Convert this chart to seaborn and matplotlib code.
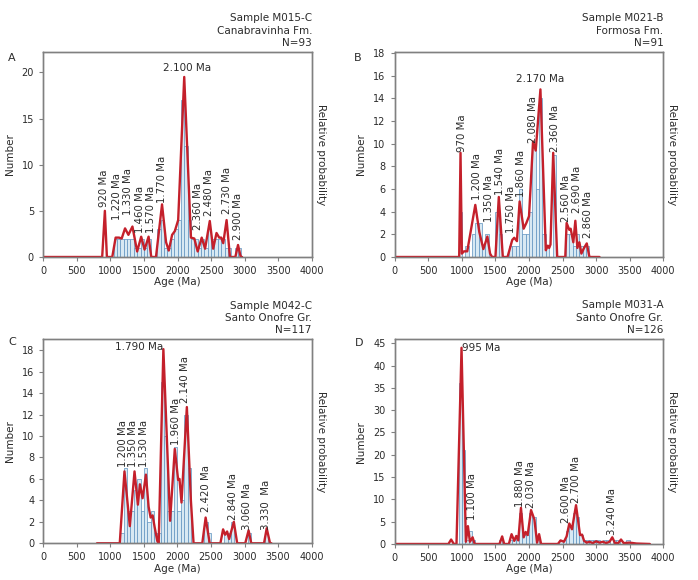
import numpy as np
import pandas as pd
import matplotlib
matplotlib.use("Agg")
import matplotlib.pyplot as plt
import seaborn as sns

# ---- Panel A : Sample M015-C
a_bin_start = [1050, 1100, 1150, 1200, 1250, 1300, 1350, 1400, 1450, 1500, 1550,
               1700, 1750, 1800, 1850, 1900, 1950, 2000, 2050, 2100, 2150, 2200,
               2250, 2300, 2350, 2400, 2450, 2500, 2550, 2600, 2650, 2700, 2750,
               2850, 2900]
a_counts = [2, 2, 2, 2, 2, 2, 1, 1, 2, 1, 2,
            3, 4, 1, 1, 2, 3, 4, 17, 12, 4, 2,
            2, 1, 2, 1, 3, 2, 2, 2, 2, 1, 1,
            1, 1]
a_curve_age = [0, 880, 920, 950, 1030, 1080, 1130, 1170, 1220, 1270, 1330, 1400,
               1460, 1510, 1570, 1610, 1680, 1770, 1830, 1870, 1920, 1960, 2010,
               2100, 2200, 2250, 2300, 2360, 2410, 2480, 2530, 2580, 2620, 2650,
               2680, 2730, 2780, 2860, 2900, 2940, 2960]
a_curve_prob = [0, 0, 5.0, 0, 0, 2.1, 2.1, 2.0, 3.1, 2.4, 3.3, 0.6,
                2.2, 0.8, 2.2, 0, 0, 5.7, 1.6, 0.7, 2.4, 2.8, 4.0,
                19.5, 2.1, 2.0, 0.6, 2.1, 0.9, 3.9, 0.9, 2.6, 2.1, 2.1,
                1.5, 4.0, 0, 0, 1.3, 0, 0]
a_label_text = ["920 Ma", "1.220 Ma", "1.330 Ma", "1.460 Ma", "1.570 Ma", "1.770 Ma",
                "2.360 Ma", "2.480 Ma", "2.730 Ma", "2.900 Ma"]
a_label_x = [912, 1096, 1269, 1440, 1605, 1765, 2312, 2472, 2731, 2904]
a_label_y = [5.4, 4.0, 4.5, 2.6, 2.6, 5.8, 2.9, 4.4, 4.7, 1.8]
a_main_label = ("2.100 Ma", 2141, 20.5, "center")

# ---- Panel B : Sample M021-B
b_bin_start = [950, 1050, 1150, 1200, 1250, 1300, 1350, 1500, 1550, 1700, 1750,
               1800, 1850, 1900, 1950, 2000, 2050, 2100, 2150, 2200, 2250, 2350,
               2550, 2600, 2650, 2700, 2750, 2800, 2850]
b_counts = [4, 1, 2, 3, 3, 1, 2, 4, 2, 1, 1,
            1, 6, 2, 2, 4, 10, 6, 14, 2, 1, 9,
            2, 2, 1, 2, 1, 1, 1]
b_curve_age = [0, 960, 980, 1000, 1030, 1080, 1200, 1260, 1320, 1380, 1420, 1450,
               1500, 1550, 1610, 1680, 1750, 1780, 1820, 1860, 1920, 1960, 2000,
               2060, 2100, 2170, 2250, 2280, 2300, 2320, 2360, 2420, 2540, 2560,
               2600, 2620, 2660, 2690, 2720, 2750, 2780, 2820, 2860, 2900, 3050]
b_curve_prob = [0, 0, 9.2, 0.3, 0.5, 0.5, 4.6, 2.2, 0.7, 1.8, 0.3, 0,
                0, 5.3, 0, 0, 1.5, 1.7, 1.4, 4.9, 2.5, 3.0, 3.6,
                10.2, 9.4, 14.8, 0.6, 1.0, 0.8, 1.1, 9.2, 0, 0, 3.0,
                2.4, 2.5, 1.3, 3.2, 0.8, 1.3, 0.3, 0.8, 1.2, 0, 0]
b_label_text = ["970 Ma", "1.200 Ma", "1.350 Ma", "1.540 Ma", "1.750 Ma", "1.860 Ma",
                "2.080 Ma", "2.360 Ma", "2.560 Ma", "2.690 Ma", "2.860 Ma"]
b_label_x = [1007, 1230, 1404, 1563, 1737, 1886, 2060, 2383, 2550, 2712, 2884]
b_label_y = [9.3, 5.0, 3.1, 5.5, 2.1, 5.3, 10.05, 9.3, 3.1, 3.9, 1.65]
b_main_label = ("2.170 Ma", 2159, 15.7, "center")

# ---- Panel C : Sample M042-C
c_bin_start = [1150, 1200, 1250, 1300, 1350, 1400, 1450, 1500, 1550, 1600, 1650,
               1700, 1750, 1800, 1850, 1900, 1950, 2000, 2050, 2100, 2150, 2400,
               2450, 2700, 2750, 2800, 3050, 3300]
c_counts = [1, 7, 3, 3, 5, 6, 3, 7, 2, 3, 1,
            1, 15, 10, 3, 3, 9, 3, 4, 12, 7, 2,
            1, 1, 1, 2, 1, 1]
c_curve_age = [800, 1140, 1210, 1290, 1360, 1410, 1440, 1480, 1530, 1570, 1600,
               1630, 1660, 1700, 1720, 1790, 1890, 1960, 2010, 2030, 2060, 2140,
               2200, 2240, 2370, 2420, 2480, 2640, 2680, 2710, 2740, 2770, 2840,
               2890, 3010, 3060, 3100, 3290, 3330, 3380, 3400]
c_curve_prob = [0, 0, 6.7, 1.6, 6.7, 3.6, 5.5, 4.2, 6.4, 3.4, 2.4,
                2.6, 1.5, 0.2, 0, 18.1, 2.1, 8.8, 5.9, 6.0, 3.8, 12.7,
                4.0, 0, 0, 2.4, 0, 0, 1.3, 0.8, 1.1, 0.4, 2.0,
                0, 0, 1.2, 0, 0, 1.4, 0, 0]
c_label_text = ["1.200 Ma", "1.350 Ma", "1.530 Ma", "1.960 Ma", "2.140 Ma",
                "2.420 Ma", "2.840 Ma", "3.060 Ma", "3.330  Ma"]
c_label_x = [1193, 1341, 1506, 1973, 2112, 2425, 2832, 3041, 3314]
c_label_y = [7.15, 7.15, 7.15, 9.2, 13.1, 2.95, 2.2, 1.2, 1.2]
c_main_label = ("1.790 Ma", 1789, 18.3, "right")

# ---- Panel D : Sample M031-A
d_bin_start = [950, 1000, 1050, 1100, 1150, 1550, 1700, 1750, 1800, 1850, 1900,
               1950, 2000, 2050, 2100, 2450, 2500, 2550, 2600, 2650, 2700, 2750,
               2800, 2850, 2900, 2950, 3000, 3100, 3150, 3250, 3300, 3450]
d_counts = [36, 21, 1, 3, 1, 1, 1, 1, 2, 7, 2,
            2, 7, 6, 1, 1, 1, 3, 4, 7, 6, 2,
            1, 1, 1, 1, 1, 1, 1, 1, 1, 1]
d_curve_age = [0, 800, 840, 880, 920, 995, 1060, 1090, 1120, 1160, 1190, 1560,
               1600, 1630, 1700, 1740, 1780, 1810, 1840, 1880, 1920, 1950, 1980,
               2030, 2080, 2120, 2150, 2180, 2430, 2470, 2520, 2560, 2600, 2640,
               2700, 2760, 2790, 2820, 2860, 2900, 2950, 3000, 3050, 3100, 3150,
               3200, 3240, 3280, 3330, 3370, 3410, 3500, 3600, 3800]
d_curve_prob = [0, 0, 1.0, 0, 0, 44.0, 0.5, 4.0, 0.5, 1.5, 0, 0,
                1.7, 0, 0, 2.2, 0.7, 1.8, 0.8, 8.1, 1.5, 2.7, 2.0,
                7.6, 5.5, 0.3, 2.2, 0, 0, 0.8, 0.5, 1.7, 4.6, 3.3,
                8.7, 2.0, 2.1, 0.7, 0.3, 0.5, 0.2, 0.6, 0.3, 0.5, 0.2,
                0.5, 1.5, 0.2, 0.2, 1.0, 0.2, 0.3, 0.1, 0]
d_label_text = ["1.100 Ma", "1.880 Ma", "2.030 Ma", "2.600 Ma", "2.700 Ma", "3.240 Ma"]
d_label_x = [1156, 1870, 2030, 2546, 2705, 3241]
d_label_y = [5.4, 8.3, 8.0, 4.8, 9.1, 2.0]
d_main_label = ("995 Ma", 997, 44.0, "left")

sns.set_style("ticks")
plt.rcParams["font.family"] = ["DejaVu Sans"]

RED = "#c4202b"
BAR_FACE = "#d8e9f3"
BAR_EDGE = "#5e92bf"
SPINE = "#808080"
TXT = "#2b2b2b"


def draw_panel(ax, bin_start, counts, curve_age, curve_prob, ymax, ystep,
               label_text, label_x, label_y, main_label, title, letter, letter_xy):
    bars = pd.DataFrame({"age": np.array(bin_start, dtype=float) + 25,
                         "count": np.array(counts, dtype=float)})
    sns.histplot(data=bars, x="age", weights="count", binwidth=50,
                 binrange=(0, 4000), ax=ax,
                 facecolor=BAR_FACE, edgecolor=BAR_EDGE, linewidth=0.5, alpha=1)
    ax.set_xlim(0, 4000)
    ax.set_ylim(0, ymax)
    ax.set_xticks(np.arange(0, 4001, 500))
    ax.set_yticks(np.arange(0, ymax, ystep))
    ax.tick_params(labelsize=7, colors=TXT, length=3, width=0.8)
    ax.tick_params(axis="both", color=SPINE)
    ax.set_xlabel("Age (Ma)", fontsize=7.5, color=TXT, labelpad=1)
    ax.set_ylabel("Number", fontsize=7.5, color=TXT, labelpad=5)

    ax2 = ax.twinx()
    curve = pd.DataFrame({"age": curve_age, "prob": curve_prob})
    sns.lineplot(data=curve, x="age", y="prob", ax=ax2, color=RED, linewidth=1.7,
                 sort=False, estimator=None)
    ax2.set_ylim(0, ymax)
    ax2.set_yticks([])
    ax2.set_ylabel("Relative probability", fontsize=7.5, color=TXT,
                   rotation=270, labelpad=10)
    for a in (ax, ax2):
        for s in a.spines.values():
            s.set_color(SPINE)
            s.set_linewidth(1.0)

    for t, x, y in zip(label_text, label_x, label_y):
        ax2.text(x, y, t, rotation=90, ha="center", va="bottom",
                 fontsize=7.3, color=TXT)
    t, x, y, ha = main_label
    ax2.text(x, y, t, ha=ha, va="center", fontsize=7.5, color=TXT)

    ax.text(1.0, 1.02, title, transform=ax.transAxes, ha="right", va="bottom",
            fontsize=7.5, color=TXT, linespacing=1.3)
    fig.text(letter_xy[0], letter_xy[1], letter, fontsize=8, color=TXT,
             ha="center", va="center")


fig = plt.figure(figsize=(6.98, 5.80), dpi=100)
ax_a = fig.add_axes([0.0616, 0.5569, 0.3854, 0.3534])
ax_b = fig.add_axes([0.5655, 0.5569, 0.3848, 0.3534])
ax_c = fig.add_axes([0.0620, 0.0633, 0.3845, 0.3514])
ax_d = fig.add_axes([0.5655, 0.0621, 0.3848, 0.3529])

draw_panel(ax_a, a_bin_start, a_counts, a_curve_age, a_curve_prob, 22.2, 5,
           a_label_text, a_label_x, a_label_y, a_main_label,
           "Sample M015-C\nCanabravinha Fm.\nN=93", "A", (0.0172, 0.900))
draw_panel(ax_b, b_bin_start, b_counts, b_curve_age, b_curve_prob, 18.1, 2,
           b_label_text, b_label_x, b_label_y, b_main_label,
           "Sample M021-B\nFormosa Fm.\nN=91", "B", (0.513, 0.900))
draw_panel(ax_c, c_bin_start, c_counts, c_curve_age, c_curve_prob, 19.0, 2,
           c_label_text, c_label_x, c_label_y, c_main_label,
           "Sample M042-C\nSanto Onofre Gr.\nN=117", "C", (0.0172, 0.410))
draw_panel(ax_d, d_bin_start, d_counts, d_curve_age, d_curve_prob, 45.9, 5,
           d_label_text, d_label_x, d_label_y, d_main_label,
           "Sample M031-A\nSanto Onofre Gr.\nN=126", "D", (0.514, 0.409))

fig.savefig("out.png", dpi=100)
